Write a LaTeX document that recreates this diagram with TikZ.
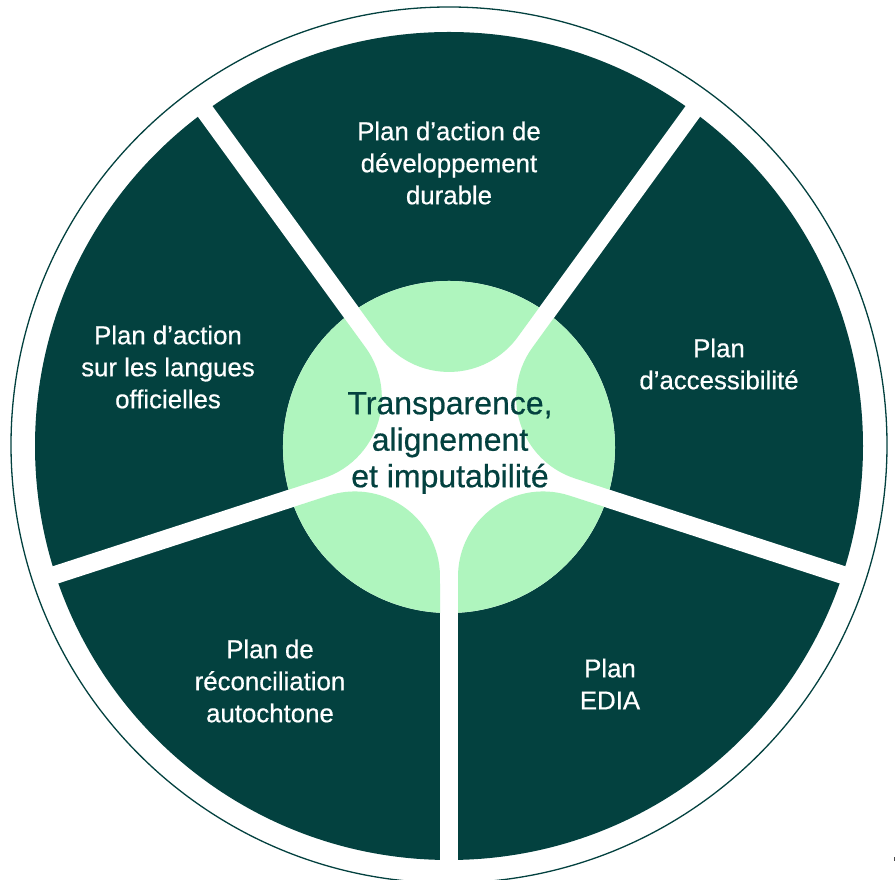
\documentclass[tikz,border=0pt]{standalone}
\usepackage{fontspec}
\usetikzlibrary{calc}
\setmainfont{Liberation Sans}[FakeBold=0.6]
\definecolor{dkgreen}{HTML}{03413F}
\definecolor{ltgreen}{HTML}{AFF5BE}
\begin{document}
\begin{tikzpicture}[x=1pt,y=1pt,
  lbl/.style={align=center, text=white, font=\fontsize{25.8}{32}\selectfont},
  ctr/.style={align=center, text=dkgreen, font=\fontsize{32}{36.5}\selectfont},
  spoke/.style={white, line width=18pt},
  lobe/.style={fill=ltgreen}]
\useasboundingbox (0,0) rectangle (895,880);
\coordinate (C) at (449,433);
\begin{scope}
  \clip (0,0) rectangle (895,880);
  \draw[dkgreen, line width=1.3pt] (449,435) circle[radius=438];
\end{scope}
\fill[dkgreen] (449,434) circle[radius=414];
\foreach \a [count=\i] in {270,342,54,126,198}
  \coordinate (s\i) at ($(C)+(\a:430)$);
\foreach \i in {1,...,5}
  \draw[spoke] (C) -- (s\i);
\fill[white] (C) circle[radius=166];
\foreach \r in {0,72,144,216,288}
  \fill[lobe, shift={(449,433)}, rotate=\r]
    (-68.85,110.1) arc[start angle=216,end angle=324,radius=85.1]
    -- (90.13,139.4) arc[start angle=57.1,end angle=122.9,radius=166] -- cycle;
\node[lbl] (t1) at (449,717) {Plan d’action de\\développement\\durable};
\node[lbl] (t2) at (719,516) {Plan\\d’accessibilité};
\node[lbl] (t3) at (610,196) {Plan\\EDIA};
\node[lbl] (t4) at (270,199) {Plan de\\réconciliation\\autochtone};
\node[lbl] (t5) at (168,513) {Plan d’action\\sur les langues\\officielles};
\node[ctr] (c) at (450,437) {Transparence,\\alignement\\et imputabilité};
\fill[black!70] (893.5,19) rectangle (895,23);
\end{tikzpicture}
\end{document}
